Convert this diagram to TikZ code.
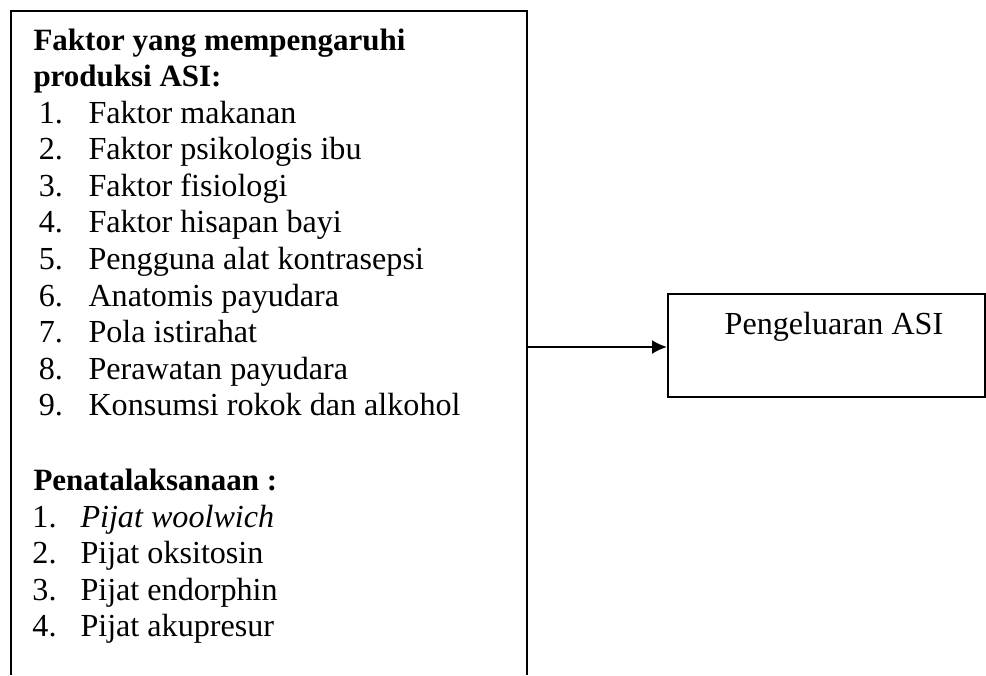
\documentclass[tikz,border=0pt]{standalone}
\usepackage{fontspec}
\setmainfont{Liberation Serif}
\usetikzlibrary{arrows.meta}
\usetikzlibrary{positioning}
\tikzset{txt/.style = {anchor=base west, inner sep=0pt,
                       font=\fontsize{12.85}{14.6}\selectfont}}
\tikzset{headtxt/.style = {txt, font=\fontsize{12.4}{14.6}\selectfont\bfseries}}
\tikzset{num/.style = {txt, anchor=base east}}
\tikzset{outbox/.style = {draw, line width=0.8pt, inner sep=0pt,
                          minimum width=126.8pt, minimum height=41.2pt}}
\tikzset{flow/.style = {line width=0.8pt, -{Latex[length=6pt, width=5.6pt]}}}

\begin{document}
\begin{tikzpicture}[x=0.4pt, y=-0.4pt]
    \useasboundingbox (0,0) rectangle (986,675);

    % left box, open at the bottom
    \draw [line width=0.8pt] (11,675) -- (11,11) -- (527,11) -- (527,675);

    \node [headtxt] (head1) at (33,50) {Faktor yang mempengaruhi};
    \node [headtxt] (head2) at (33,86.6) {produksi ASI:};
    \foreach \i/\entry in {1/Faktor makanan, 2/Faktor psikologis ibu,
                           3/Faktor fisiologi, 4/Faktor hisapan bayi,
                           5/Pengguna alat kontrasepsi, 6/Anatomis payudara,
                           7/Pola istirahat, 8/Perawatan payudara,
                           9/Konsumsi rokok dan alkohol} {
      \node [num] (n\i) at (63.5, {123+36.6*(\i-1)}) {\i.};
      \node [txt] (f\i) at (88, {123+36.6*(\i-1)}) {\entry};
    }

    \node [headtxt] (head3) at (33,490) {Penatalaksanaan :};
    \foreach \i/\entry in {1/\textit{Pijat woolwich}, 2/Pijat oksitosin,
                           3/Pijat endorphin, 4/Pijat akupresur} {
      \node [txt] (m\i) at (32, {527+36.6*(\i-1)}) {\i.};
      \node [txt] (p\i) at (80, {527+36.6*(\i-1)}) {\entry};
    }

    % output box
    \node [outbox] (out) at (826.5,345.5) {};
    \node [txt, anchor=base] (outlabel) at (834,334) {Pengeluaran ASI};

    \coordinate (src) at (527,347);
    \draw [flow] (src) -- (src -| out.west);
\end{tikzpicture}
\end{document}
